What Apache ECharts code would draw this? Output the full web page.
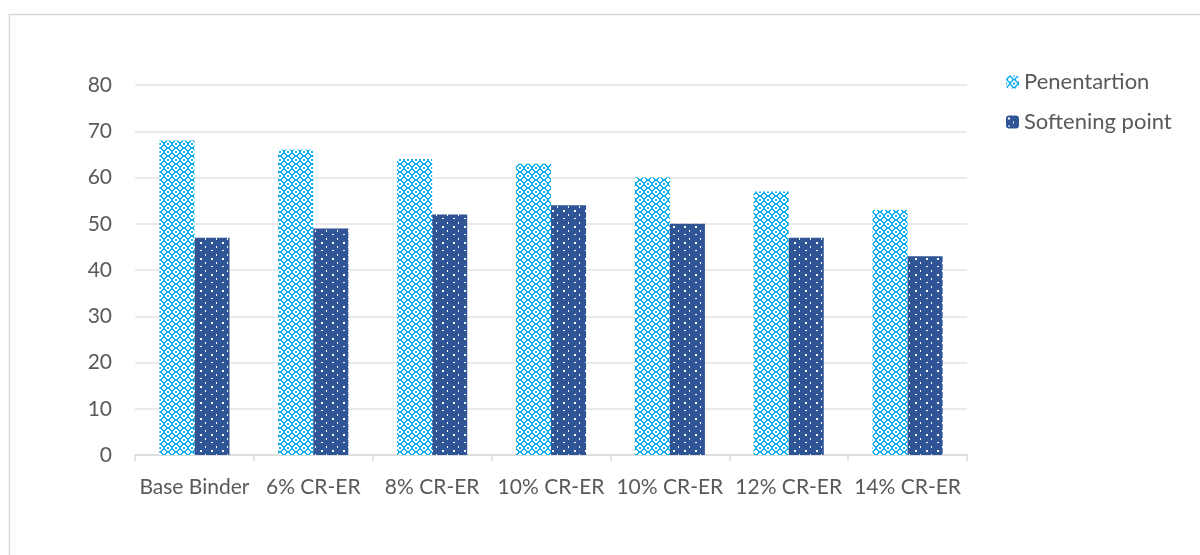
<!DOCTYPE html>
<html>
<head>
<meta charset="utf-8">
<script src="https://cdn.jsdelivr.net/npm/echarts@6/dist/echarts.min.js"></script>
<style>
  html, body { margin: 0; padding: 0; background: #fff; }
  #chart { width: 1200px; height: 555px; }
</style>
</head>
<body>
<div id="chart"></div>
<script>
// Binder samples and measured properties
const categories = ['Base Binder', '6% CR-ER', '8% CR-ER', '10% CR-ER', '10% CR-ER', '12% CR-ER', '14% CR-ER'];
const penetration = [68, 66, 64, 63, 60, 57, 53];
const softeningPoint = [47, 49, 52, 54, 50, 47, 43];
const yTicks = [0, 10, 20, 30, 40, 50, 60, 70, 80];

// Light blue lattice fill
function latticeTile() {
  const c = document.createElement('canvas');
  c.width = 8; c.height = 8;
  const g = c.getContext('2d');
  g.fillStyle = '#ffffff';
  g.fillRect(0, 0, 8, 8);
  g.fillStyle = '#12AEEC';
  for (let y = 0; y < 8; y++) {
    for (let x = 0; x < 8; x++) {
      const dx = Math.abs(x - 3.5), dy = Math.abs(y - 3.5);
      const d = dx + dy;
      const ring = d >= 2.5 && d <= 4;
      const corner = (x === 0 || x === 7) && (y === 0 || y === 7);
      if (ring || corner) g.fillRect(x, y, 1, 1);
    }
  }
  return c;
}

// Dark blue fill with small white dots and dashes
function dottedTile() {
  const c = document.createElement('canvas');
  c.width = 11; c.height = 16;
  const g = c.getContext('2d');
  g.fillStyle = '#2F5597';
  g.fillRect(0, 0, 11, 16);
  g.fillStyle = '#ffffff';
  g.fillRect(2, 2, 2, 2);
  g.fillRect(7, 6, 1, 2);
  g.fillRect(2, 10, 2, 1);
  g.fillRect(7, 14, 1, 2);
  return c;
}

const lightFill = { image: latticeTile(), repeat: 'repeat' };
const darkFill = { image: dottedTile(), repeat: 'repeat' };

const textColor = '#595959';
const fontFamily = 'Lato, "Open Sans", sans-serif';

const chart = echarts.init(document.getElementById('chart'), null, { renderer: 'canvas' });
chart.setOption({
  animation: false,
  backgroundColor: '#ffffff',
  graphic: [{
    type: 'rect',
    left: 7, top: 12,
    shape: { width: 1220, height: 600 },
    style: { fill: 'none', stroke: '#d9d9d9', lineWidth: 1.5 },
    silent: true, z: -1
  }],
  legend: {
    orient: 'vertical',
    left: 1001,
    top: 66,
    itemWidth: 13,
    itemHeight: 13,
    itemGap: 18,
    textStyle: { color: textColor, fontSize: 22, fontFamily: fontFamily },
    data: ['Penentartion', 'Softening point']
  },
  grid: { left: 135, right: 233, top: 85, bottom: 100 },
  xAxis: {
    type: 'category',
    data: categories,
    axisLine: { lineStyle: { color: '#d9d9d9', width: 1.5 } },
    axisTick: { show: true, length: 6, lineStyle: { color: '#d9d9d9', width: 1.5 } },
    axisLabel: { color: textColor, fontSize: 21, fontFamily: fontFamily, margin: 22, interval: 0 }
  },
  yAxis: {
    type: 'value',
    min: 0, max: 80, interval: 10,
    axisLine: { show: false },
    axisTick: { show: false },
    splitLine: { lineStyle: { color: '#e3e3e3', width: 1.5 } },
    axisLabel: {
      color: textColor, fontSize: 21, fontFamily: fontFamily, margin: 23,
      formatter: v => yTicks.includes(v) ? String(v) : ''
    }
  },
  series: [
    {
      name: 'Penentartion', type: 'bar', data: penetration,
      barGap: '0%', barCategoryGap: '41%',
      itemStyle: { color: lightFill }
    },
    {
      name: 'Softening point', type: 'bar', data: softeningPoint,
      barGap: '0%', barCategoryGap: '41%',
      itemStyle: { color: darkFill }
    }
  ]
});
</script>
</body>
</html>
